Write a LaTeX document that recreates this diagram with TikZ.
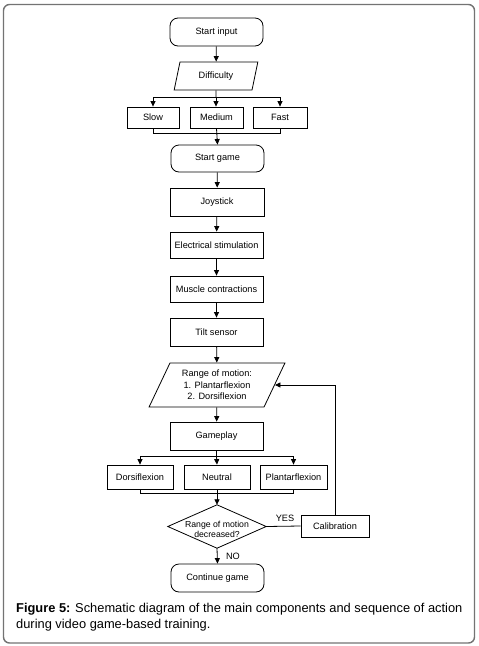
\documentclass[tikz,border=0pt]{standalone}
\usepackage{fontspec}
\setmainfont{Liberation Sans}
\usetikzlibrary{arrows.meta,shapes.geometric,calc}
\begin{document}
\begin{tikzpicture}[x=1pt,y=-1pt,
  box/.style={draw,line width=0.8pt,inner sep=0pt,font=\fontsize{9.2}{11.5}\selectfont,align=center},
  rbox/.style={box,rounded corners=8pt},
  para/.style={box,trapezium,trapezium stretches=true},
  conn/.style={line width=0.8pt},
  arr/.style={conn,-{Triangle[length=5.5pt,width=5pt]}},
  lab/.style={font=\fontsize{9.2}{11}\selectfont,inner sep=0pt},
  captext/.style={font=\fontsize{12.85}{16}\selectfont,inner sep=0pt,anchor=base west}]
\useasboundingbox (0,0) rectangle (479,646);
% frame
\draw[line width=1.4pt,draw=black!55,rounded corners=6pt] (3.5,4.5) rectangle (474.5,643);
% nodes
\node[rbox,minimum width=93pt,minimum height=28pt] (start) at (216.5,32) {Start input};
\node[para,trapezium left angle=72,trapezium right angle=108,minimum width=84pt,minimum height=28pt] (diff) at (216,76) {Difficulty};
\node[box,minimum width=52pt,minimum height=21pt] (slow) at (153,117.5) {Slow};
\node[box,minimum width=53pt,minimum height=21pt] (med) at (216.5,117.5) {Medium};
\node[box,minimum width=54pt,minimum height=21pt] (fast) at (280,117.5) {Fast};
\node[rbox,minimum width=93pt,minimum height=27pt] (sgame) at (217.5,158.5) {Start game};
\node[box,minimum width=94pt,minimum height=28pt] (joy) at (217,202) {Joystick};
\node[box,minimum width=93pt,minimum height=26pt] (elec) at (216.5,245) {Electrical stimulation};
\node[box,minimum width=93pt,minimum height=26pt] (musc) at (216.5,289) {Muscle contractions};
\node[box,minimum width=93pt,minimum height=28pt] (tilt) at (216.5,332) {Tilt sensor};
\node[para,trapezium left angle=62.4,trapezium right angle=117.6,minimum width=136pt,minimum height=44pt] (rom) at (217,385) {Range of motion:\\1. Plantarflexion\\2. Dorsiflexion};
\node[box,minimum width=93pt,minimum height=28pt] (game) at (216.5,436) {Gameplay};
\node[box,minimum width=66pt,minimum height=24pt] (dors) at (140,477) {Dorsiflexion};
\node[box,minimum width=66pt,minimum height=24pt] (neut) at (217,477) {Neutral};
\node[box,minimum width=67pt,minimum height=24pt] (plan) at (293.5,477) {Plantarflexion};
\node[minimum width=98pt,minimum height=43pt,inner sep=0pt] (dec) at (217,526.5) {};
\draw[line width=0.8pt] (dec.west) -- (dec.north) -- (dec.east) -- (dec.south) -- cycle;
\node[align=center,inner sep=0pt,font=\fontsize{8.7}{10}\selectfont] (dectext) at ($(dec.center)+(0,2.5)$) {Range of motion\\decreased?};
\node[box,minimum width=68pt,minimum height=22pt] (cal) at (335,526) {Calibration};
\node[rbox,minimum width=93pt,minimum height=28pt] (cont) at (217.5,578) {Continue game};
% connectors
\coordinate (b1) at (216,97);
\coordinate (m1) at (216.5,133);
\coordinate (b2) at (216.5,456);
\coordinate (m2) at (217,493);
\draw[arr] (start) -- (diff);
\draw[conn] (diff.south) -- (b1);
\draw[arr] (b1) -| (slow.north);
\draw[arr] (b1) -| (fast.north);
\draw[arr] (b1) -- (b1 |- med.north);
\draw[conn] (slow.south) |- (m1);
\draw[conn] (fast.south) |- (m1);
\draw[arr] (med.south) -- (sgame.north);
\draw[arr] (sgame) -- (joy);
\draw[arr] (joy) -- (elec);
\draw[arr] (elec) -- (musc);
\draw[arr] (musc) -- (tilt);
\draw[arr] (tilt) -- (rom);
\draw[arr] (rom) -- (game);
\draw[conn] (game.south) -- (b2);
\draw[arr] (b2) -| (dors.north);
\draw[arr] (b2) -| (plan.north);
\draw[arr] (b2) -- (neut.north);
\draw[conn] (dors.south) |- (m2);
\draw[conn] (plan.south) |- (m2);
\draw[arr] (neut.south) -- (dec.north);
\draw[conn] (dec.east) -- (cal.west);
\draw[arr] (cal.north) |- (rom.east);
\draw[arr] (dec.south) -- (cont.north);
\node[lab] (yes) at (285,518) {YES};
\node[lab] (no) at (233,556) {NO};
% caption
\node[captext] (cap1) at (16,612.5) {\textbf{Figure 5:} Schematic diagram of the main components and sequence of action};
\node[captext] (cap2) at (16,628.5) {during video game-based training.};
\end{tikzpicture}
\end{document}
